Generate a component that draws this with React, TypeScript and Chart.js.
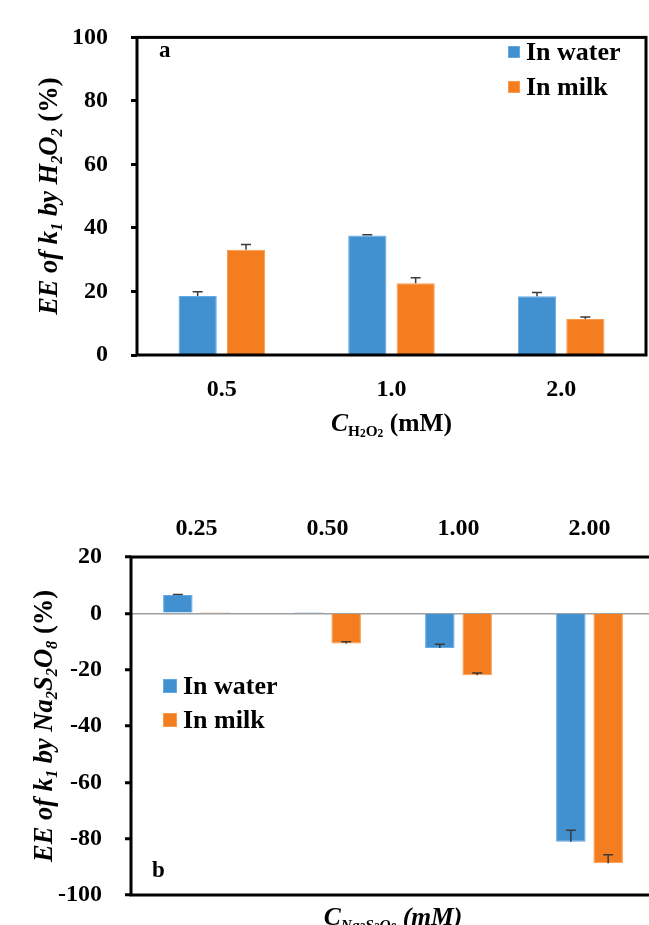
import React, { useEffect, useRef } from 'react';
import { Chart, registerables } from 'chart.js';

Chart.register(...registerables);

// ---------------- data ----------------
const seriesNames = ['In water', 'In milk'];

const h2o2Categories = ['0.5', '1.0', '2.0'];
const h2o2Water = [18.6, 37.6, 18.5];
const h2o2WaterErr = [1.3, 0.3, 1.2];
const h2o2Milk = [33.1, 22.6, 11.3];
const h2o2MilkErr = [1.7, 1.7, 0.7];
const h2o2YTicks = [0, 20, 40, 60, 80, 100];

const psCategories = ['0.25', '0.50', '1.00', '2.00'];
const psWater = [6.5, 0.5, -12.3, -81.1];
const psWaterErr = [0.2, 0, 1.3, 4.1];
const psMilk = [0.5, -10.7, -22.0, -88.7];
const psMilkErr = [0, 0.6, 0.8, 3.0];
const psYTicks = [20, 0, -20, -40, -60, -80, -100];

// ---------------- styles ----------------
const SERIF = '"Liberation Serif", "Times New Roman", Times, serif';
const BLUE = '#4190d0';
const BLUE_EDGE = '#62aae8';
const ORANGE = '#f47d20';
const ORANGE_EDGE = '#f99a4c';
const TICK_SIZE = 24;

type Seg = { t: string; i?: boolean; s?: number; dy?: number };

function drawRich(
  ctx: CanvasRenderingContext2D,
  segs: Seg[],
  x: number,
  y: number,
  size: number,
  angle: number
) {
  ctx.save();
  ctx.translate(x, y);
  ctx.rotate(angle);
  ctx.fillStyle = '#000';
  ctx.textBaseline = 'alphabetic';
  ctx.textAlign = 'left';
  const fontOf = (s: Seg) => `${s.i ? 'italic ' : ''}bold ${size * (s.s || 1)}px ${SERIF}`;
  let total = 0;
  for (const s of segs) {
    ctx.font = fontOf(s);
    total += ctx.measureText(s.t).width;
  }
  let cx = -total / 2;
  for (const s of segs) {
    ctx.font = fontOf(s);
    ctx.fillText(s.t, cx, (s.dy || 0) * size);
    cx += ctx.measureText(s.t).width;
  }
  ctx.restore();
}

type FigCfg = {
  panel: { text: string; x: number; y: number };
  legend: { x: number; y: number; box: number; step: number; size: number };
  yTitle: { segs: Seg[]; x: number; size: number };
  xTitle: { segs: Seg[]; y: number; size: number };
  errors: number[][];
};

function makeFigurePlugin(cfg: FigCfg) {
  return {
    id: 'figureDecor',
    afterDatasetsDraw(chart: any) {
      const ctx = chart.ctx as CanvasRenderingContext2D;
      const yScale = chart.scales.y;
      ctx.save();
      ctx.strokeStyle = '#3a3a3a';
      ctx.lineWidth = 1.5;
      chart.data.datasets.forEach((ds: any, di: number) => {
        const meta = chart.getDatasetMeta(di);
        const errs = cfg.errors[di];
        meta.data.forEach((bar: any, j: number) => {
          const e = errs[j];
          if (!e) return;
          const v = ds.data[j];
          const y0 = yScale.getPixelForValue(v);
          const y1 = yScale.getPixelForValue(v + e);
          ctx.beginPath();
          ctx.moveTo(bar.x, y0);
          ctx.lineTo(bar.x, y1);
          ctx.moveTo(bar.x - 5, y1);
          ctx.lineTo(bar.x + 5, y1);
          ctx.stroke();
        });
      });
      ctx.restore();
    },
    afterDraw(chart: any) {
      const ctx = chart.ctx as CanvasRenderingContext2D;
      const a = chart.chartArea;
      // frame
      ctx.save();
      ctx.strokeStyle = '#000';
      ctx.lineWidth = 3;
      ctx.strokeRect(a.left, a.top, a.right - a.left, a.bottom - a.top);
      ctx.restore();

      // panel letter
      ctx.save();
      ctx.fillStyle = '#000';
      ctx.font = `bold 23px ${SERIF}`;
      ctx.textBaseline = 'alphabetic';
      ctx.fillText(cfg.panel.text, cfg.panel.x, cfg.panel.y);
      ctx.restore();

      // legend
      const L = cfg.legend;
      ctx.save();
      chart.data.datasets.forEach((ds: any, i: number) => {
        const cy = L.y + i * L.step;
        ctx.fillStyle = ds.backgroundColor;
        ctx.fillRect(L.x, cy - L.box / 2, L.box, L.box);
        ctx.strokeStyle = ds.borderColor;
        ctx.lineWidth = 1;
        ctx.strokeRect(L.x + 0.5, cy - L.box / 2 + 0.5, L.box - 1, L.box - 1);
        ctx.fillStyle = '#000';
        ctx.font = `bold ${L.size}px ${SERIF}`;
        ctx.textBaseline = 'middle';
        ctx.fillText(ds.label, L.x + L.box + 6, cy + 1);
      });
      ctx.restore();

      // axis titles
      drawRich(ctx, cfg.yTitle.segs, cfg.yTitle.x, (a.top + a.bottom) / 2, cfg.yTitle.size, -Math.PI / 2);
      drawRich(ctx, cfg.xTitle.segs, (a.left + a.right) / 2, cfg.xTitle.y, cfg.xTitle.size, 0);
    },
  };
}

function makeDatasets(water: number[], milk: number[]) {
  return [
    {
      label: seriesNames[0],
      data: water,
      backgroundColor: BLUE,
      borderColor: BLUE_EDGE,
      borderWidth: 1,
      categoryPercentage: 0.57,
      barPercentage: 0.79,
    },
    {
      label: seriesNames[1],
      data: milk,
      backgroundColor: ORANGE,
      borderColor: ORANGE_EDGE,
      borderWidth: 1,
      categoryPercentage: 0.57,
      barPercentage: 0.79,
    },
  ];
}

const tickFont = { family: SERIF, size: TICK_SIZE, weight: 'bold' as const };

function topConfig(): any {
  const cfg: FigCfg = {
    panel: { text: 'a', x: 159, y: 57 },
    legend: { x: 508, y: 52, box: 12, step: 35, size: 26 },
    yTitle: {
      x: 57,
      size: 26.5,
      segs: [
        { t: 'EE of k', i: true },
        { t: '1', i: true, s: 0.62, dy: 0.2 },
        { t: ' by H', i: true },
        { t: '2', i: true, s: 0.62, dy: 0.2 },
        { t: 'O', i: true },
        { t: '2', i: true, s: 0.62, dy: 0.2 },
        { t: ' (%)' },
      ],
    },
    xTitle: {
      y: 431,
      size: 25.5,
      segs: [
        { t: 'C', i: true },
        { t: 'H', s: 0.6, dy: 0.18 },
        { t: '2', s: 0.45, dy: 0.22 },
        { t: 'O', s: 0.6, dy: 0.18 },
        { t: '2', s: 0.45, dy: 0.22 },
        { t: ' (mM)' },
      ],
    },
    errors: [h2o2WaterErr, h2o2MilkErr],
  };
  return {
    type: 'bar',
    data: { labels: h2o2Categories, datasets: makeDatasets(h2o2Water, h2o2Milk) },
    options: {
      responsive: false,
      animation: false,
      layout: { padding: { top: 25, right: 3, left: 0, bottom: 0 } },
      plugins: { legend: { display: false }, tooltip: { enabled: false } },
      scales: {
        x: {
          position: 'bottom',
          grid: { display: false },
          border: { display: false },
          ticks: { font: tickFont, color: '#000', padding: 12 },
          afterFit: (s: any) => {
            s.height = 105;
          },
        },
        y: {
          min: Math.min(...h2o2YTicks),
          max: Math.max(...h2o2YTicks),
          ticks: { stepSize: h2o2YTicks[1] - h2o2YTicks[0], font: tickFont, color: '#000', padding: 23 },
          grid: { drawOnChartArea: false, drawTicks: true, tickLength: 6, tickWidth: 3, tickColor: '#000' },
          border: { display: false },
          afterFit: (s: any) => {
            s.width = 137;
          },
        },
      },
    },
    plugins: [makeFigurePlugin(cfg)],
  };
}

function bottomConfig(): any {
  const cfg: FigCfg = {
    panel: { text: 'b', x: 152, y: 417 },
    legend: { x: 163, y: 226, box: 14, step: 34, size: 26 },
    yTitle: {
      x: 52,
      size: 26.5,
      segs: [
        { t: 'EE of k', i: true },
        { t: '1', i: true, s: 0.62, dy: 0.2 },
        { t: ' by Na', i: true },
        { t: '2', i: true, s: 0.62, dy: 0.2 },
        { t: 'S', i: true },
        { t: '2', i: true, s: 0.62, dy: 0.2 },
        { t: 'O', i: true },
        { t: '8', i: true, s: 0.62, dy: 0.2 },
        { t: ' (%)' },
      ],
    },
    xTitle: {
      y: 465,
      size: 25.5,
      segs: [
        { t: 'C', i: true },
        { t: 'Na', i: true, s: 0.6, dy: 0.18 },
        { t: '2', i: true, s: 0.45, dy: 0.22 },
        { t: 'S', i: true, s: 0.6, dy: 0.18 },
        { t: '2', i: true, s: 0.45, dy: 0.22 },
        { t: 'O', i: true, s: 0.6, dy: 0.18 },
        { t: '8', i: true, s: 0.45, dy: 0.22 },
        { t: ' (mM)', i: true },
      ],
    },
    errors: [psWaterErr, psMilkErr],
  };
  return {
    type: 'bar',
    data: { labels: psCategories, datasets: makeDatasets(psWater, psMilk) },
    options: {
      responsive: false,
      animation: false,
      layout: { padding: { top: 0, right: 5, left: 0, bottom: 45 } },
      plugins: { legend: { display: false }, tooltip: { enabled: false } },
      scales: {
        x: {
          position: 'top',
          grid: { display: false },
          border: { display: false },
          ticks: { font: tickFont, color: '#000', padding: 6 },
          afterFit: (s: any) => {
            s.height = 97;
          },
        },
        y: {
          min: Math.min(...psYTicks),
          max: Math.max(...psYTicks),
          ticks: { stepSize: psYTicks[0] - psYTicks[1], font: tickFont, color: '#000', padding: 23 },
          grid: {
            drawOnChartArea: true,
            drawTicks: true,
            tickLength: 6,
            tickWidth: 3,
            tickColor: '#000',
            lineWidth: 1.5,
            color: (c: any) => (c.tick && c.tick.value === 0 ? '#a0a0a0' : 'rgba(0,0,0,0)'),
          },
          border: { display: false },
          afterFit: (s: any) => {
            s.width = 131;
          },
        },
      },
    },
    plugins: [makeFigurePlugin(cfg)],
  };
}

function ChartCanvas({ make, width, height }: { make: () => any; width: number; height: number }) {
  const ref = useRef<HTMLCanvasElement | null>(null);
  useEffect(() => {
    if (!ref.current) return;
    const chart = new Chart(ref.current, make());
    return () => chart.destroy();
  }, [make]);
  return <canvas ref={ref} width={width} height={height} style={{ display: 'block', width, height }} />;
}

export default function App() {
  return (
    <div
      style={{
        position: 'absolute',
        left: 0,
        top: 0,
        width: 649,
        height: 925,
        overflow: 'hidden',
        background: '#fff',
      }}
    >
      <div style={{ position: 'absolute', left: 0, top: 0 }}>
        <ChartCanvas make={topConfig} width={649} height={460} />
      </div>
      <div style={{ position: 'absolute', left: 0, top: 460 }}>
        <ChartCanvas make={bottomConfig} width={660} height={480} />
      </div>
    </div>
  );
}
